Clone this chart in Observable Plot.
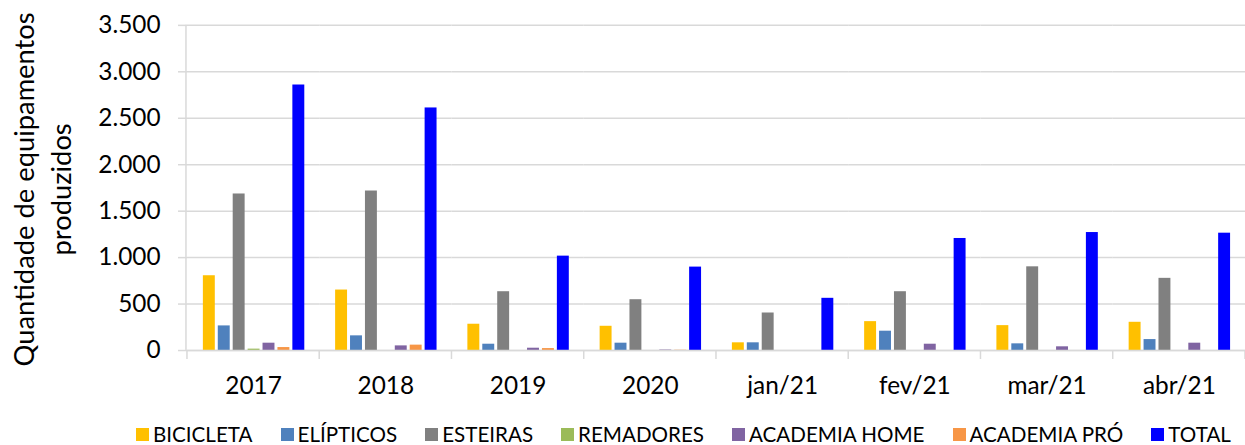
<!DOCTYPE html>
<html>
<head>
<meta charset="utf-8">
<script src="https://cdn.jsdelivr.net/npm/d3@7"></script>
<script src="https://cdn.jsdelivr.net/npm/@observablehq/plot@0.6"></script>
<style>
  html, body { margin: 0; padding: 0; background: #fff; overflow: hidden; width: 1245px; height: 445px; }
  #wrap { position: relative; width: 1245px; height: 445px; }
  #chart { position: absolute; left: 0; top: 0; }
  #legend { position: absolute; left: 136px; top: 422px; display: flex; align-items: center; font-family: Lato, sans-serif; font-size: 20.6px; line-height: 24px; color: #000; white-space: nowrap; }
  .item { display: flex; align-items: center; margin-right: 28px; }
  .sw { width: 13px; height: 13px; margin-right: 4px; }
</style>
</head>
<body>
<div id="wrap"><div id="chart"></div><div id="legend"></div></div>
<script>
const categories = ["2017", "2018", "2019", "2020", "jan/21", "fev/21", "mar/21", "abr/21"];
const seriesNames = ["BICICLETA", "ELÍPTICOS", "ESTEIRAS", "REMADORES", "ACADEMIA HOME", "ACADEMIA PRÓ", "TOTAL"];
const seriesColors = ["#FFC000", "#4F81BD", "#808080", "#9BBB59", "#8064A2", "#F79646", "#0000FF"];
const bicicleta    = [805, 651, 283, 261, 83, 311, 268, 304];
const elipticos    = [265, 158, 68, 79, 83, 208, 72, 118];
const esteiras     = [1685, 1717, 633, 547, 404, 633, 901, 777];
const remadores    = [15, 0, 0, 0, 0, 0, 0, 0];
const academiaHome = [79, 50, 25, 5, 0, 68, 40, 79];
const academiaPro  = [32, 58, 21, 3, 0, 0, 0, 0];
const total        = [2858, 2611, 1016, 898, 562, 1206, 1270, 1263];
const yTicks = [0, 500, 1000, 1500, 2000, 2500, 3000, 3500];
const yTitleLines = ["Quantidade de equipamentos", "produzidos"];

const seriesValues = [bicicleta, elipticos, esteiras, remadores, academiaHome, academiaPro, total];
const data = [];
categories.forEach((c, i) => {
  seriesNames.forEach((s, j) => data.push({cat: c, series: s, value: seriesValues[j][i]}));
});

const ptBR = d3.formatLocale({decimal: ",", thousands: ".", grouping: [3], currency: ["R$", ""]});
const fmt = ptBR.format(",d");
const grid = "#d9d9d9";

const plot = Plot.plot({
  width: 1252,
  height: 410,
  marginLeft: 187,
  marginRight: 0,
  marginTop: 25,
  marginBottom: 58,
  style: {fontFamily: "Lato, sans-serif", fontSize: "24px", color: "#000", background: "transparent", overflow: "visible"},
  fx: {domain: categories, padding: 0, label: null},
  x: {domain: seriesNames, paddingInner: 0.2, paddingOuter: 0.835, axis: null},
  y: {domain: [0, 3500], label: null},
  color: {domain: seriesNames, range: seriesColors},
  marks: [
    Plot.gridY(yTicks, {stroke: grid, strokeOpacity: 1, strokeWidth: 1.5}),
    Plot.axisY(yTicks, {tickSize: 9, tickPadding: 18, stroke: grid, strokeOpacity: 1, strokeWidth: 1.5, tickFormat: fmt, label: null, fontSize: 24.5}),
    Plot.axisFx({anchor: "bottom", tickSize: 0, tickPadding: 26, label: null, fontSize: 24.5}),
    Plot.barY(data, {fx: "cat", x: "series", y: "value", fill: "series"}),
    Plot.ruleY([0], {stroke: grid, strokeWidth: 1.5})
  ]
});
document.getElementById("chart").appendChild(plot);

// axis decorations from the library's scales
const svg = d3.select(plot);
const fxs = plot.scale("fx");
const ys = plot.scale("y");
const y0 = ys.apply(0), yTop = ys.apply(3500);
const bounds = categories.map(c => fxs.apply(c)).concat([fxs.range[1]]);
const deco = svg.append("g");
deco.append("line").attr("x1", fxs.range[0]).attr("x2", fxs.range[0]).attr("y1", yTop).attr("y2", y0)
  .attr("stroke", grid).attr("stroke-width", 1.5);
deco.selectAll("line.sep").data(bounds).join("line").attr("class", "sep")
  .attr("x1", d => d).attr("x2", d => d).attr("y1", y0).attr("y2", y0 + 9)
  .attr("stroke", grid).attr("stroke-width", 1.5);

// y title (two lines, rotated)
const yMid = (yTop + y0) / 2 + 2;
const tg = svg.append("g").attr("font-family", "Lato, sans-serif").attr("font-size", 27.5).attr("fill", "#000").attr("text-anchor", "middle");
tg.append("text").attr("transform", `translate(34,${yMid}) rotate(-90)`).text(yTitleLines[0]);
tg.append("text").attr("transform", `translate(71,${yMid}) rotate(-90)`).text(yTitleLines[1]);

// legend
const legend = d3.select("#legend");
seriesNames.forEach((s, i) => {
  const it = legend.append("div").attr("class", "item");
  it.append("div").attr("class", "sw").style("background", seriesColors[i]);
  it.append("span").text(s);
});
</script>
</body>
</html>
